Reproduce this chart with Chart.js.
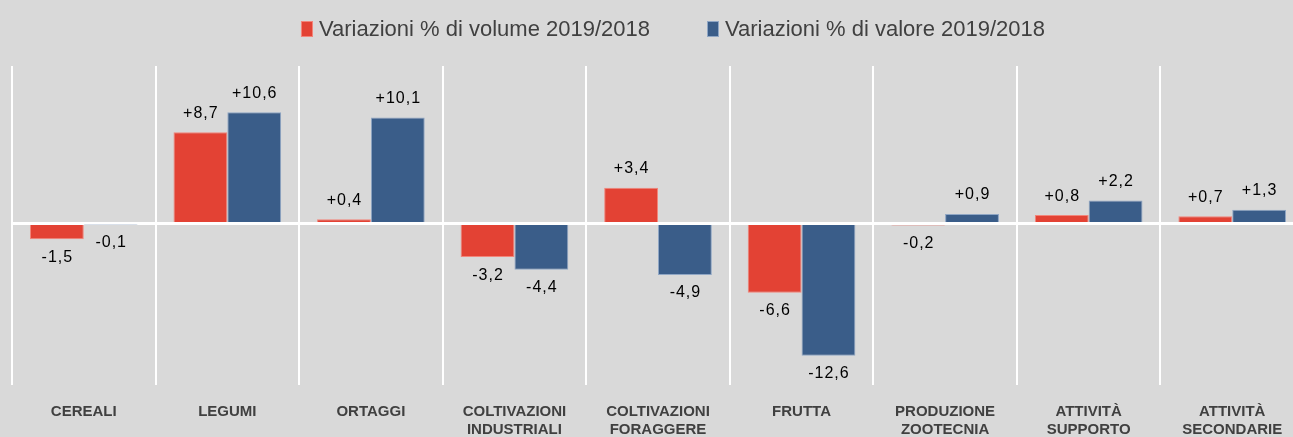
<!DOCTYPE html>
<html>
<head>
<meta charset="utf-8">
<script src="https://cdn.jsdelivr.net/npm/chart.js@4.4.0/dist/chart.umd.min.js"></script>
<style>
  html, body { margin: 0; padding: 0; background: #d9d9d9; overflow: hidden; }
  #wrap { width: 1346px; height: 437px; position: relative; }
</style>
</head>
<body>
<div id="wrap"><canvas id="chart"></canvas></div>
<script>
// categories and values
const categories = [
  'CEREALI',
  'LEGUMI',
  'ORTAGGI',
  ['COLTIVAZIONI', 'INDUSTRIALI'],
  ['COLTIVAZIONI', 'FORAGGERE'],
  'FRUTTA',
  ['PRODUZIONE', 'ZOOTECNIA'],
  ['ATTIVITÀ', 'SUPPORTO'],
  ['ATTIVITÀ', 'SECONDARIE']
];
const volume = [-1.5, 8.7, 0.4, -3.2, 3.4, -6.6, -0.2, 0.8, 0.7];
const valore = [-0.1, 10.6, 10.1, -4.4, -4.9, -12.6, 0.9, 2.2, 1.3];
const seriesNames = ['Variazioni % di volume 2019/2018', 'Variazioni % di valore 2019/2018'];

const FONT = '"Liberation Sans", Arial, sans-serif';
const fmt = v => (v > 0 ? '+' : '') + v.toFixed(1).replace('.', ',');

// value labels at the end of each bar
const valueLabels = {
  id: 'valueLabels',
  afterDatasetsDraw(chart) {
    const ctx = chart.ctx;
    ctx.save();
    ctx.font = '16px ' + FONT;
    ctx.letterSpacing = '1px';
    ctx.fillStyle = '#000';
    ctx.textAlign = 'center';
    chart.data.datasets.forEach((ds, di) => {
      chart.getDatasetMeta(di).data.forEach((bar, i) => {
        const v = ds.data[i];
        if (v >= 0) {
          ctx.textBaseline = 'bottom';
          ctx.fillText(fmt(v), bar.x + 0.5, bar.y - 11);
        } else {
          ctx.textBaseline = 'top';
          ctx.fillText(fmt(v), bar.x + 0.5, bar.y + 10);
        }
      });
    });
    ctx.restore();
  }
};

// legend drawn on top, centred, wide gap between the two entries
const topLegend = {
  id: 'topLegend',
  afterDraw(chart) {
    const ctx = chart.ctx;
    ctx.save();
    ctx.font = '22px ' + FONT;
    ctx.textBaseline = 'middle';
    const boxW = 12, boxH = 16, boxGap = 6, itemGap = 57, y = 29;
    const items = chart.data.datasets.map(ds => ({
      text: ds.label, color: ds.backgroundColor, border: ds.borderColor,
      w: boxW + boxGap + ctx.measureText(ds.label).width
    }));
    const total = items.reduce((s, it) => s + it.w, 0) + itemGap * (items.length - 1);
    let x = chart.width / 2 - total / 2;
    items.forEach(it => {
      ctx.fillStyle = it.color;
      ctx.fillRect(x, y - boxH / 2, boxW, boxH);
      ctx.strokeStyle = it.border;
      ctx.lineWidth = 1;
      ctx.strokeRect(x + 0.5, y - boxH / 2 + 0.5, boxW - 1, boxH - 1);
      ctx.fillStyle = '#404040';
      ctx.fillText(it.text, x + boxW + boxGap, y + 1);
      x += it.w + itemGap;
    });
    ctx.restore();
  }
};

new Chart(document.getElementById('chart'), {
  type: 'bar',
  data: {
    labels: categories,
    datasets: [
      {
        label: seriesNames[0],
        data: volume,
        backgroundColor: '#e34234',
        borderColor: '#f2857a',
        borderWidth: 1
      },
      {
        label: seriesNames[1],
        data: valore,
        backgroundColor: '#3a5d89',
        borderColor: '#8fa6c4',
        borderWidth: 1
      }
    ]
  },
  options: {
    responsive: true,
    maintainAspectRatio: false,
    animation: false,
    categoryPercentage: 0.75,
    barPercentage: 1,
    layout: { padding: { left: 12, right: 42, top: 66, bottom: 0 } },
    scales: {
      x: {
        offset: true,
        border: { display: false },
        grid: {
          offset: true,
          color: '#ffffff',
          lineWidth: 2,
          tickLength: 4
        },
        ticks: {
          color: '#404040',
          padding: 18,
          maxRotation: 0,
          autoSkip: false,
          font: { family: FONT, size: 15, weight: 'bold', lineHeight: 1.2 }
        },
        afterFit(scale) { scale.height = 56; }
      },
      y: {
        min: -15,
        max: 15,
        border: { display: false },
        ticks: { display: false, stepSize: 5 },
        grid: {
          drawTicks: false,
          color: c => (c.tick && c.tick.value === 0 ? '#ffffff' : 'rgba(0,0,0,0)'),
          lineWidth: c => (c.tick && c.tick.value === 0 ? 3 : 0)
        }
      }
    },
    plugins: {
      legend: { display: false },
      tooltip: { enabled: false }
    }
  },
  plugins: [valueLabels, topLegend]
});
</script>
</body>
</html>
